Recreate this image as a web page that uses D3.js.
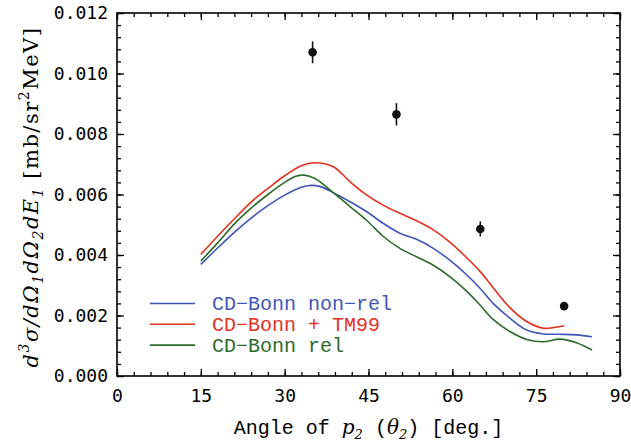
<!DOCTYPE html>
<html>
<head>
<meta charset="utf-8">
<script src="https://cdn.jsdelivr.net/npm/d3@7"></script>
<style>
  html, body { margin: 0; padding: 0; background: #fff; }
  svg { display: block; }
</style>
</head>
<body>
<div id="chart"></div>
<script>
"use strict";

// theory curves: angle of p2 [deg] and d3sigma values [mb/sr^2 MeV]
var nonrelAngle = [15, 18, 21, 24, 27, 30, 33, 34.5, 36.4, 38.7, 41.7, 44.7, 47.6, 50.6, 53.6, 56.6, 59.6, 62.6, 65, 67.3, 70.3, 73.3, 76.3, 79.2, 82.2, 85];
var nonrelValue = [0.00369, 0.00423, 0.00475, 0.00522, 0.00563, 0.00598, 0.00624, 0.0063, 0.00626, 0.00606, 0.00576, 0.00543, 0.00505, 0.00472, 0.00452, 0.00422, 0.00382, 0.00334, 0.00289, 0.0024, 0.00191, 0.00152, 0.00139, 0.00138, 0.00136, 0.0013];

var tm99Angle = [15, 18, 21, 24, 27, 30, 33, 35.3, 38.7, 41.7, 44.7, 47.6, 50.6, 53.6, 56.6, 59.6, 62.3, 65, 67.3, 70.3, 73.3, 76.3, 78, 80];
var tm99Value = [0.00402, 0.00462, 0.0052, 0.00575, 0.0062, 0.00662, 0.00695, 0.00705, 0.00692, 0.00642, 0.00598, 0.00565, 0.00538, 0.00513, 0.00483, 0.00442, 0.00396, 0.00345, 0.00292, 0.00226, 0.0018, 0.00158, 0.0016, 0.00166];

var relAngle = [15, 18, 21, 24, 27, 30, 32, 33.5, 35.5, 38.7, 41.7, 44.7, 47.6, 50.6, 53.6, 56.6, 59.6, 62.6, 65, 67.3, 70.3, 73.3, 76.3, 79.2, 82.2, 85];
var relValue = [0.0038, 0.0044, 0.00503, 0.00555, 0.006, 0.0064, 0.0066, 0.00664, 0.00652, 0.00606, 0.0056, 0.00514, 0.00462, 0.00422, 0.00394, 0.00366, 0.00328, 0.0028, 0.00234, 0.00187, 0.00147, 0.00121, 0.00113, 0.00122, 0.0011, 0.00086];

// measured points
var dataAngle = [35, 50, 65, 80];
var dataValue = [0.0107, 0.00865, 0.00486, 0.00231];
var dataError = [0.00036, 0.00037, 0.00025, 0.0001];

var xTicks = [0, 15, 30, 45, 60, 75, 90];
var yTicks = [0, 0.002, 0.004, 0.006, 0.008, 0.010, 0.012];

var seriesNames = ["CD\u2212Bonn non\u2212rel", "CD\u2212Bonn + TM99", "CD\u2212Bonn rel"];
var seriesColors = ["#3f56b8", "#e4301f", "#2c6b2c"];

var width = 631, height = 441;
var pLeft = 117, pRight = 620, pTop = 13, pBottom = 376;

var svg = d3.select("#chart").append("svg").attr("width", width).attr("height", height);

var x = d3.scaleLinear().domain([0, 90]).range([pLeft, pRight]);
var y = d3.scaleLinear().domain([0, 0.012]).range([pBottom, pTop]);

var monoNum = "'DejaVu Sans Mono', monospace";
var monoTxt = "'Liberation Mono', monospace";

///////////////////////////////////////
// axes, ticks pointing inward
function styleAxis(g){
	g.select(".domain").remove();
	g.selectAll(".tick line").attr("stroke", "#000").attr("stroke-width", 1.3);
	g.selectAll("text").attr("fill", "#000").style("font-family", monoNum).style("font-size", "18px");
}

var xMinor = d3.range(0, 91, 3);
var yMinor = d3.range(0, 0.01201, 0.0004);

svg.append("g").attr("transform", "translate(0," + pBottom + ")")
	.call(d3.axisBottom(x).tickValues(xTicks).tickSize(-7).tickPadding(13).tickFormat(d3.format("d")))
	.call(styleAxis);
svg.append("g").attr("transform", "translate(0," + pBottom + ")")
	.call(d3.axisBottom(x).tickValues(xMinor).tickSize(-4).tickFormat(""))
	.call(styleAxis);
svg.append("g").attr("transform", "translate(0," + pTop + ")")
	.call(d3.axisTop(x).tickValues(xTicks).tickSize(-7).tickFormat(""))
	.call(styleAxis);
svg.append("g").attr("transform", "translate(0," + pTop + ")")
	.call(d3.axisTop(x).tickValues(xMinor).tickSize(-4).tickFormat(""))
	.call(styleAxis);

svg.append("g").attr("transform", "translate(" + pLeft + ",0)")
	.call(d3.axisLeft(y).tickValues(yTicks).tickSize(-7).tickPadding(9).tickFormat(d3.format(".3f")))
	.call(styleAxis);
svg.append("g").attr("transform", "translate(" + pLeft + ",0)")
	.call(d3.axisLeft(y).tickValues(yMinor).tickSize(-4).tickFormat(""))
	.call(styleAxis);
svg.append("g").attr("transform", "translate(" + pRight + ",0)")
	.call(d3.axisRight(y).tickValues(yTicks).tickSize(-7).tickFormat(""))
	.call(styleAxis);
svg.append("g").attr("transform", "translate(" + pRight + ",0)")
	.call(d3.axisRight(y).tickValues(yMinor).tickSize(-4).tickFormat(""))
	.call(styleAxis);

svg.append("rect")
	.attr("x", pLeft).attr("y", pTop).attr("width", pRight - pLeft).attr("height", pBottom - pTop)
	.attr("fill", "none").attr("stroke", "#000").attr("stroke-width", 1.6);

///////////////////////////////////////
// curves
var line = d3.line()
	.x(function(d){ return x(d[0]); })
	.y(function(d){ return y(d[1]); })
	.curve(d3.curveCatmullRom.alpha(0.5));

var curves = [
	d3.zip(nonrelAngle, nonrelValue),
	d3.zip(tm99Angle, tm99Value),
	d3.zip(relAngle, relValue)
];

svg.append("g").selectAll("path").data(curves).enter().append("path")
	.attr("d", line)
	.attr("fill", "none")
	.attr("stroke", function(d, i){ return seriesColors[i]; })
	.attr("stroke-width", 1.6);

// data points with error bars
var pts = d3.range(dataAngle.length);
var gp = svg.append("g");
gp.selectAll("line").data(pts).enter().append("line")
	.attr("x1", function(i){ return x(dataAngle[i]); })
	.attr("x2", function(i){ return x(dataAngle[i]); })
	.attr("y1", function(i){ return y(dataValue[i] - dataError[i]); })
	.attr("y2", function(i){ return y(dataValue[i] + dataError[i]); })
	.attr("stroke", "#111").attr("stroke-width", 1.6);
gp.selectAll("circle").data(pts).enter().append("circle")
	.attr("cx", function(i){ return x(dataAngle[i]); })
	.attr("cy", function(i){ return y(dataValue[i]); })
	.attr("r", 4.3)
	.attr("fill", "#111");

///////////////////////////////////////
// legend
var legend = svg.append("g").selectAll("g").data(seriesNames).enter().append("g")
	.attr("transform", function(d, i){ return "translate(150," + (303.5 + i * 20.8) + ")"; });
legend.append("line")
	.attr("x1", 0).attr("x2", 45)
	.attr("stroke", function(d, i){ return seriesColors[i]; })
	.attr("stroke-width", 1.6);
legend.append("text")
	.attr("x", 62).attr("y", 6.5)
	.attr("fill", function(d, i){ return seriesColors[i]; })
	.style("font-family", monoTxt).style("font-size", "20px")
	.text(function(d){ return d; });

///////////////////////////////////////
// axis titles
var xt = svg.append("text")
	.attr("x", (pLeft + pRight) / 2).attr("y", 433.5)
	.attr("text-anchor", "middle")
	.style("font-family", monoTxt).style("font-size", "20px").attr("fill", "#000");
xt.append("tspan").text("Angle of ");
xt.append("tspan").style("font-family", "'DejaVu Serif', serif").style("font-style", "italic").text("p");
xt.append("tspan").attr("dy", 5).style("font-family", "'DejaVu Serif', serif").style("font-style", "italic").style("font-size", "13px").text("2");
xt.append("tspan").attr("dy", -5).text(" (");
xt.append("tspan").style("font-family", "'DejaVu Serif', serif").style("font-style", "italic").text("\u03b8");
xt.append("tspan").attr("dy", 5).style("font-family", "'DejaVu Serif', serif").style("font-style", "italic").style("font-size", "13px").text("2");
xt.append("tspan").attr("dy", -5).text(") [deg.]");

var yt = svg.append("text")
	.attr("transform", "translate(37.5," + 197 + ") rotate(-90)")
	.attr("text-anchor", "middle")
	.style("font-family", "'DejaVu Serif', serif").style("font-size", "21px")
	.style("letter-spacing", "1.5px").attr("fill", "#000");
function mi(t){ return yt.append("tspan").style("font-style", "italic").text(t); }
function sub(t, dy){ return yt.append("tspan").attr("dy", dy).style("font-style", "italic").style("font-size", "14px").text(t); }
mi("d");
sub("3", -9);
mi("\u03c3").attr("dy", 9);
mi("/d\u03a9");
sub("1", 5);
mi("d\u03a9").attr("dy", -5);
sub("2", 5);
mi("dE").attr("dy", -5);
sub("1", 5);
yt.append("tspan").attr("dy", -5).text(" [mb/sr");
yt.append("tspan").attr("dy", -9).style("font-size", "14px").text("2");
yt.append("tspan").attr("dy", 9).text("MeV]");
</script>
</body>
</html>
